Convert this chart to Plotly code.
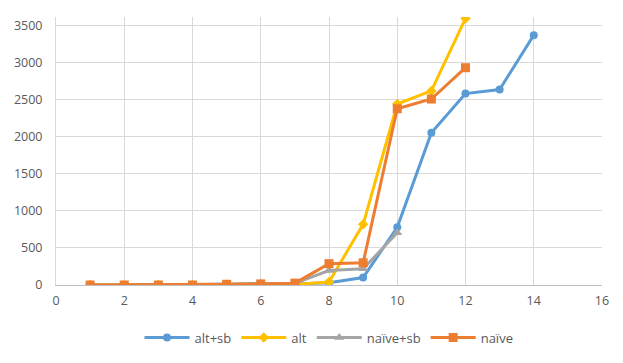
import plotly.graph_objects as go

# series data
x_alt_sb = [1, 2, 3, 4, 5, 6, 7, 8, 9, 10, 11, 12, 13, 14]
alt_sb = [0, 0, 0, 0, 5, 10, 15, 30, 100, 780, 2055, 2585, 2640, 3375]

x_alt = [1, 2, 3, 4, 5, 6, 7, 8, 9, 10, 11, 12]
alt = [0, 0, 0, 0, 0, 5, 8, 40, 820, 2445, 2622, 3600]

x_naive_sb = [1, 2, 3, 4, 5, 6, 7, 8, 9, 10]
naive_sb = [0, 0, 0, 0, 10, 20, 25, 195, 218, 705]

x_naive = [1, 2, 3, 4, 5, 6, 7, 8, 9, 10, 11, 12]
naive = [0, 0, 0, 0, 10, 15, 25, 288, 300, 2380, 2512, 2935]

series = [
    ("alt+sb", x_alt_sb, alt_sb, "#5B9BD5", "circle", 8),
    ("alt", x_alt, alt, "#FFC000", "diamond", 8),
    ("naïve+sb", x_naive_sb, naive_sb, "#A5A5A5", "triangle-up", 9),
    ("naïve", x_naive, naive, "#ED7D31", "square", 9),
]

fig = go.Figure()
for name, xs, ys, color, symbol, size in series:
    fig.add_trace(go.Scatter(
        x=xs, y=ys, name=name, mode="lines+markers",
        line=dict(color=color, width=3),
        marker=dict(color=color, symbol=symbol, size=size),
    ))

# page body adds an 8px offset, so the figure is a bit smaller than the window
fig.update_layout(
    width=615, height=355,
    margin=dict(l=48, r=21, t=9, b=78),
    paper_bgcolor="white", plot_bgcolor="white",
    font=dict(family="Open Sans, Liberation Sans, sans-serif", size=12.5, color="#595959"),
    showlegend=True,
    legend=dict(orientation="h", x=0.5, xanchor="center", y=-0.14, yanchor="top",
                font=dict(size=13, color="#595959"), itemwidth=45),
)
fig.update_xaxes(range=[0, 16], dtick=2, showgrid=True, gridcolor="#D9D9D9", gridwidth=1,
                 zeroline=False, showline=True, linecolor="#BFBFBF", ticks="",
                 automargin=False, ticklabelstandoff=4)
fig.update_yaxes(range=[0, 3620], dtick=500, showgrid=True, gridcolor="#D9D9D9", gridwidth=1,
                 zeroline=False, showline=True, linecolor="#D9D9D9", ticks="",
                 automargin=False, ticklabelstandoff=10)

fig.write_html("out.html")
